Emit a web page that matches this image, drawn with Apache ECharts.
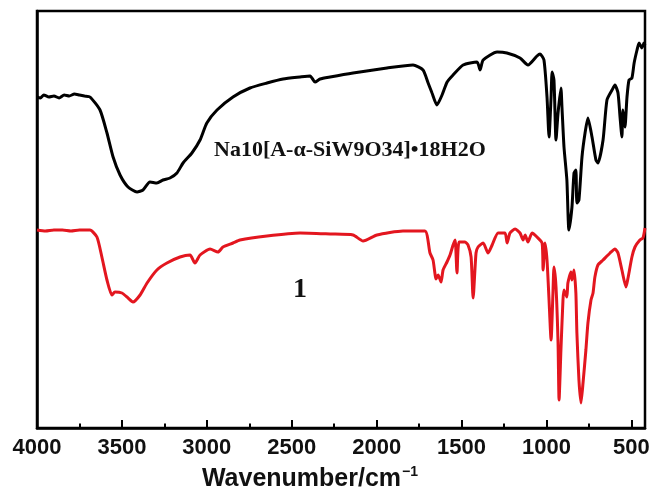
<!DOCTYPE html>
<html>
<head>
<meta charset="utf-8">
<script src="https://cdn.jsdelivr.net/npm/echarts@6/dist/echarts.min.js"></script>
<style>
html,body{margin:0;padding:0;background:#fff;}
#chart{width:651px;height:498px;}
</style>
</head>
<body>
<div id="chart"></div>
<script>
// Tick labels (wavenumber, cm^-1)
var majorTicks = [4000, 3500, 3000, 2500, 2000, 1500, 1000, 500];
var minorTicks = [3750, 3250, 2750, 2250, 1750, 1250, 750];

// Na10[A-α-SiW9O34]•18H2O spectrum: [wavenumber, transmittance (a.u.)]
var blackSpectrum = [
  [4000,331],[3980,330],[3960,333],[3930,331],[3900,332],[3870,330],[3840,333],[3810,332],[3780,334],[3750,333],[3720,332],[3688,331],
  [3629,318],[3588,295],[3552,271],[3511,253],[3464,241],[3411,236],[3376,238],[3335,246],[3294,245],[3258,248],
  [3217,250],[3176,255],[3140,265],[3088,275],[3040,288],[3000,305],[2940,318],[2846,331],[2746,340],[2646,345],
  [2551,349],[2451,351],[2392,352],[2363,346],[2333,349],[2274,351],[2139,355],[1939,360],[1786,363],[1727,358],
  [1697,345],[1674,335],[1645,323],[1615,333],[1585,346],[1550,353],[1491,363],[1409,366],[1391,358],[1373,368],
  [1291,376],[1233,375],[1156,370],[1109,363],[1056,372],[1038,374],[1015,368],[997,331],[985,291],[973,331],
  [967,356],[956,348],[944,288],[932,315],[915,340],[909,321],[897,281],[880,248],[868,198],[850,221],
  [838,255],[827,258],[821,225],[809,228],[791,271],[773,295],[756,310],[732,291],[709,268],[697,265],
  [667,288],[644,328],[614,338],[597,343],[579,335],[567,311],[556,291],[550,318],[538,301],[526,331],
  [514,348],[497,350],[484,365],[467,378],[455,385],[438,380],[426,385],[420,383]
];

// Compound 1 spectrum: [wavenumber, transmittance (a.u.)]
var redSpectrum = [
  [4000,198],[3950,197],[3900,198],[3850,198],[3800,197],[3750,198],[3700,198],[3688,198],[3647,191],[3618,171],
  [3588,148],[3559,133],[3541,136],[3500,135],[3464,130],[3435,126],[3393,133],[3352,145],[3294,158],[3235,165],
  [3158,171],[3099,173],[3070,165],[3040,173],[2981,179],[2934,176],[2905,181],[2846,185],[2805,188],[2646,192],
  [2451,195],[2274,194],[2139,193],[2080,187],[1998,193],[1845,197],[1716,197],[1686,175],[1668,168],[1650,149],
  [1638,153],[1621,146],[1609,158],[1586,166],[1568,173],[1550,183],[1538,188],[1527,155],[1515,186],[1480,186],
  [1462,183],[1444,171],[1432,130],[1415,175],[1403,181],[1373,185],[1344,175],[1320,183],[1285,195],[1244,195],
  [1232,185],[1215,195],[1185,199],[1156,195],[1138,188],[1126,193],[1109,186],[1085,195],[1056,191],[1026,185],
  [1020,158],[1009,185],[997,168],[985,128],[973,88],[962,135],[956,161],[944,141],[932,85],[926,28],
  [915,78],[903,128],[897,138],[880,131],[874,145],[856,156],[850,148],[838,158],[827,135],[821,95],
  [809,48],[797,25],[785,45],[768,78],[756,105],[738,128],[726,135],[715,151],[697,163],[667,168],
  [626,175],[597,179],[579,175],[556,158],[532,141],[520,150],[497,171],[479,181],[450,188],[432,190],[420,200]
];

var chart = echarts.init(document.getElementById('chart'), null, {renderer: 'canvas'});
var axisColor = '#000';
chart.setOption({
  backgroundColor: '#fff',
  animation: false,
  grid: {left: 37, right: 6, top: 11, bottom: 70, containLabel: false, outerBoundsMode: 'none',
         show: true, borderColor: axisColor, borderWidth: 2.5, backgroundColor: 'transparent'},
  xAxis: [{
    type: 'value', inverse: true, min: 420, max: 4000,
    axisLine: {show: true, onZero: false, lineStyle: {color: axisColor, width: 2.5}},
    axisTick: {show: true, inside: true, length: 8, customValues: majorTicks, lineStyle: {color: axisColor, width: 2}},
    axisLabel: {show: true, margin: 9, customValues: majorTicks, formatter: function (v) { return String(v); },
                color: '#111', fontFamily: 'Liberation Sans, Arial, sans-serif', fontWeight: 'bold', fontSize: 22},
    splitLine: {show: false},
    name: '{m|Wavenumber/cm}{s|\u22121}',
    nameLocation: 'middle', nameGap: 37,
    nameTextStyle: {
      padding: [0, 62, 0, 0],
      rich: {
        m: {fontFamily: 'Liberation Sans, Arial, sans-serif', fontSize: 25, color: '#111', fontWeight: 'bold'},
        s: {fontFamily: 'Liberation Sans, Arial, sans-serif', fontSize: 14, color: '#111', fontWeight: 'bold', padding: [0, 0, 14, 1]}
      }
    }
  }, {
    type: 'value', inverse: true, min: 420, max: 4000, position: 'bottom',
    axisLine: {show: false, onZero: false},
    axisTick: {show: true, inside: true, length: 4.5, customValues: minorTicks, lineStyle: {color: axisColor, width: 2}},
    axisLabel: {show: false},
    splitLine: {show: false}
  }],
  yAxis: {
    type: 'value', min: 0, max: 417,
    axisLine: {show: true, lineStyle: {color: axisColor, width: 2.5}},
    axisTick: {show: false}, axisLabel: {show: false}, splitLine: {show: false}
  },
  series: [{
    name: 'Na10[A-α-SiW9O34]•18H2O', type: 'line', xAxisIndex: 0, data: blackSpectrum,
    showSymbol: false, smooth: 0.2, lineStyle: {color: '#000', width: 3}, z: 3
  }, {
    name: '1', type: 'line', xAxisIndex: 0, data: redSpectrum,
    showSymbol: false, smooth: 0.2, lineStyle: {color: '#e3161f', width: 3}, z: 3
  }],
  graphic: [{
    type: 'text', left: 214, top: 139,
    style: {text: 'Na10[A-\u03b1-SiW9O34]\u202218H2O', fontFamily: 'Liberation Serif, Times New Roman, serif', fontWeight: 'bold', fontSize: 22, fill: '#111'}
  }, {
    type: 'text', left: 293, top: 276,
    style: {text: '1', fontFamily: 'Liberation Serif, Times New Roman, serif', fontWeight: 'bold', fontSize: 28, fill: '#111'}
  }]
});
</script>
</body>
</html>
